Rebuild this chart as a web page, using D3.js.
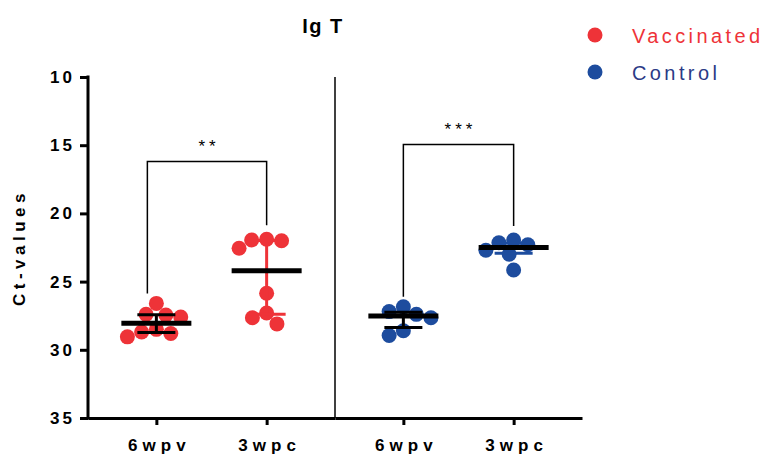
<!DOCTYPE html>
<html>
<head>
<meta charset="utf-8">
<script src="https://cdn.jsdelivr.net/npm/d3@7"></script>
<style>
  body { margin: 0; background: #fff; }
  svg { display: block; }
  text { font-family: "Liberation Sans", Arial, Helvetica, sans-serif; }
</style>
</head>
<body>
<svg id="chart" width="766" height="458"></svg>
<script>
// ---- data ----
const groups = ["Vaccinated", "Control"];
const timepoints = ["6wpv", "3wpc"];
const vaccinated6wpv = [26.6, 27.4, 27.45, 27.6, 28.5, 28.7, 28.8, 29.05];
const vaccinated3wpc = [21.9, 21.95, 22.0, 22.55, 25.85, 27.3, 27.65, 28.1];
const control6wpv = [26.85, 27.2, 27.4, 27.65, 28.6, 28.95];
const control3wpc = [21.95, 22.15, 22.3, 22.7, 23.0, 24.15];
const yTicks = [10, 15, 20, 25, 30, 35];
const significance = ["**", "***"];
const bracketLevels = [16.2, 14.95];
const chartTitle = "Ig T";
const yTitle = "Ct-values";

const series = [
  { group: "Vaccinated", time: "6wpv", values: vaccinated6wpv },
  { group: "Vaccinated", time: "3wpc", values: vaccinated3wpc },
  { group: "Control", time: "6wpv", values: control6wpv },
  { group: "Control", time: "3wpc", values: control3wpc }
];

// ---- look ----
const colors = { Vaccinated: "#EE3338", Control: "#1D4C9E" };
const legendText = { Vaccinated: "#EE3338", Control: "#2B3A86" };
const plot = { left: 88, right: 582, top: 77, bottom: 418 };
const dotR = 7.5;
const bracketNudge = [-9, 0];   // horizontal shift of each bracket's left leg

const svg = d3.select("#chart");

const y = d3.scaleLinear().domain([10, 35]).range([plot.top, plot.bottom]);
const xGroup = d3.scaleBand().domain(groups).range([plot.left, plot.right]);
const xTime = d3.scalePoint().domain(timepoints).range([0, xGroup.bandwidth()]).padding(0.62);
const xPos = (g, t) => xGroup(g) + xTime(t);

// simple beeswarm: each point takes the free horizontal offset nearest the centre
function swarm(values, minDist) {
  const placed = [];
  return values.map(v => {
    const py = y(v);
    const blocked = [];
    placed.forEach(p => {
      const dy = Math.abs(p.y - py);
      if (dy < minDist) {
        const hw = Math.sqrt(minDist * minDist - dy * dy);
        blocked.push([p.x - hw, p.x + hw]);
      }
    });
    const cands = [0];
    blocked.forEach(([a, b]) => cands.push(a, b));
    const free = cands.filter(c => blocked.every(([a, b]) => c <= a + 1e-6 || c >= b - 1e-6));
    free.sort((a, b) => Math.abs(a) - Math.abs(b) || (a - b));
    const x = free[0];
    placed.push({ x, y: py });
    return { value: v, dx: x };
  });
}

// ---- y axis ----
const yAxis = svg.append("g")
  .attr("transform", `translate(${plot.left},0)`)
  .call(d3.axisLeft(y).tickValues(yTicks).tickSize(8).tickSizeOuter(0).tickPadding(8));
yAxis.select(".domain").attr("stroke", "#000").attr("stroke-width", 3).attr("d", `M0,${plot.top - 1.5}V${plot.bottom + 1.5}`);
yAxis.selectAll(".tick line").attr("stroke", "#000").attr("stroke-width", 3);
yAxis.selectAll(".tick text")
  .attr("fill", "#000").attr("font-size", 17).attr("font-weight", "bold")
  .attr("letter-spacing", 3).attr("dx", 3);

// ---- x axis: one segment per group ----
groups.forEach(g => {
  const ax = svg.append("g")
    .attr("transform", `translate(${xGroup(g)},${plot.bottom})`)
    .call(d3.axisBottom(xTime).tickSize(7).tickSizeOuter(0).tickPadding(14));
  ax.select(".domain").attr("stroke", "#000").attr("stroke-width", 3);
  ax.selectAll(".tick line").attr("stroke", "#000").attr("stroke-width", 3);
  ax.selectAll(".tick text")
    .attr("fill", "#000").attr("font-size", 17).attr("font-weight", "bold")
    .attr("letter-spacing", 5).attr("dx", 2.5);
});

// separator between the two groups
svg.append("line")
  .attr("x1", xGroup(groups[1])).attr("x2", xGroup(groups[1]))
  .attr("y1", y(10)).attr("y2", y(35))
  .attr("stroke", "#000").attr("stroke-width", 1.5);

// ---- points and summaries (median with interquartile range) ----
series.forEach(s => {
  const sorted = s.values.slice().sort(d3.ascending);
  const cx = xPos(s.group, s.time);
  const pts = swarm(sorted, 15);
  svg.append("g").selectAll("circle").data(pts).join("circle")
    .attr("cx", d => cx + d.dx)
    .attr("cy", d => y(d.value))
    .attr("r", dotR)
    .attr("fill", colors[s.group]);

  const med = d3.quantileSorted(sorted, 0.5);
  const q1 = d3.quantileSorted(sorted, 0.25);
  const q3 = d3.quantileSorted(sorted, 0.75);
  const barColor = s.time === timepoints[0] ? "#000" : colors[s.group];
  const g = svg.append("g").attr("stroke", barColor).attr("stroke-width", 3);
  g.append("line").attr("x1", cx).attr("x2", cx).attr("y1", y(q1)).attr("y2", y(q3));
  g.append("line").attr("x1", cx - 19).attr("x2", cx + 19).attr("y1", y(q1)).attr("y2", y(q1));
  g.append("line").attr("x1", cx - 19).attr("x2", cx + 19).attr("y1", y(q3)).attr("y2", y(q3));
  svg.append("line")
    .attr("x1", cx - 35).attr("x2", cx + 35)
    .attr("y1", y(med)).attr("y2", y(med))
    .attr("stroke", "#000").attr("stroke-width", 5);
});

// ---- significance brackets ----
groups.forEach((grp, i) => {
  const a = series.find(s => s.group === grp && s.time === timepoints[0]);
  const b = series.find(s => s.group === grp && s.time === timepoints[1]);
  const x1 = xPos(grp, timepoints[0]) + bracketNudge[i], x2 = xPos(grp, timepoints[1]);
  const top = y(bracketLevels[i]);
  const end1 = y(d3.min(a.values)) - 10;
  const end2 = y(d3.min(b.values)) - 14;
  svg.append("path")
    .attr("d", `M${x1},${end1}V${top}H${x2}V${end2}`)
    .attr("fill", "none").attr("stroke", "#000").attr("stroke-width", 1.5);
  svg.append("text")
    .attr("x", (x1 + x2) / 2 + 2).attr("y", top - 10)
    .attr("text-anchor", "middle")
    .attr("font-size", 17).attr("letter-spacing", 4)
    .text(significance[i]);
});

// ---- title ----
svg.append("text")
  .attr("x", 323).attr("y", 33)
  .attr("text-anchor", "middle")
  .attr("font-size", 20).attr("font-weight", "bold").attr("letter-spacing", 1.5)
  .text(chartTitle);

// ---- y title ----
svg.append("text")
  .attr("transform", `translate(25,${(plot.top + plot.bottom) / 2}) rotate(-90)`)
  .attr("text-anchor", "middle")
  .attr("font-size", 17).attr("font-weight", "bold").attr("letter-spacing", 4.5)
  .text(yTitle);

// ---- legend ----
const legend = svg.append("g").attr("transform", "translate(595,35)");
groups.forEach((grp, i) => {
  const row = legend.append("g").attr("transform", `translate(0,${i * 37})`);
  row.append("circle").attr("r", 7.5).attr("fill", colors[grp]);
  row.append("text")
    .attr("x", 37).attr("y", 8)
    .attr("font-size", 20).attr("letter-spacing", 3.4)
    .attr("fill", legendText[grp])
    .text(grp);
});
</script>
</body>
</html>
